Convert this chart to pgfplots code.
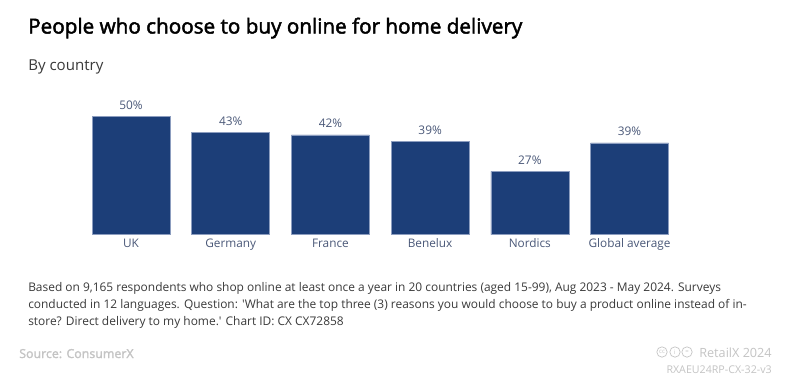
\documentclass[border=0pt]{standalone}
\usepackage{pgfplots}
\pgfplotsset{compat=1.18}
\usepackage{fontspec}
\setmainfont{Open Sans}
\definecolor{bar}{HTML}{1C3E78}
\definecolor{baredge}{HTML}{8C9DBF}
\definecolor{lab}{HTML}{4A5878}
\definecolor{body}{HTML}{3A3A3A}
\definecolor{foot}{HTML}{C4C4C4}
\begin{document}
\begin{tikzpicture}[x=0.75pt,y=-0.75pt]
\path[use as bounding box,fill=white] (0,0) rectangle (790,379);
\coordinate (O) at (81.2,234.5);
\begin{axis}[
  at={(O)},anchor=south west,
  x=74.775pt,y=1.77pt,
  scale only axis,
  xmin=-0.5,xmax=5.5,ymin=0,ymax=60,
  axis lines=none,
  clip=false,
  ybar,bar width=58.5pt,bar shift=0pt,
  nodes near coords={\pgfmathprintnumber[fixed,precision=0,assume math mode=true]{\pgfplotspointmeta}\%},
  every node near coord/.append style={font=\fontsize{8.9}{8.9}\selectfont,text=lab,yshift=1.6pt},
]
\addplot[fill=bar,draw=baredge,line width=0.4pt] coordinates {(0,50) (1,43.4) (2,42.2) (3,39.4) (4,26.7) (5,38.8)};
\end{axis}
\foreach \x/\t in {131/UK,230.7/Germany,330.4/France,430.1/Benelux,529.8/Nordics,629.5/Global average}
  \node[font=\fontsize{8.85}{8.85}\selectfont,text=lab,anchor=base] at (\x,247.5) {\t};
\node[anchor=base west,inner sep=0,font=\fontsize{15.5}{15.5}\selectfont,text=black] at (28,33.5) {\addfontfeatures{FakeBold=2.2}People who choose to buy online for home delivery};
\node[anchor=base west,inner sep=0,font=\fontsize{11.3}{11.3}\selectfont,text=body] at (28,70) {By country};
\node[anchor=base west,inner sep=0,font=\fontsize{8.95}{9}\selectfont,text=body] at (28,291) {Based on 9,165 respondents who shop online at least once a year in 20 countries (aged 15-99), Aug 2023 - May 2024. Surveys};
\node[anchor=base west,inner sep=0,font=\fontsize{8.95}{9}\selectfont,text=body] at (28,308) {conducted in 12 languages. Question: \textquotesingle What are the top three (3) reasons you would choose to buy a product online instead of in-};
\node[anchor=base west,inner sep=0,font=\fontsize{8.95}{9}\selectfont,text=body] at (28,325) {store? Direct delivery to my home.\textquotesingle{} Chart ID: CX CX72858};
\node[anchor=base west,inner sep=0,font=\fontsize{9.3}{9.4}\selectfont,text=foot] at (19,358) {\addfontfeatures{FakeBold=1.8}Source: ConsumerX};
\node[anchor=base east,inner sep=0,font=\fontsize{9.5}{9.5}\selectfont,text=foot] at (772,357) {RetailX 2024};
\node[anchor=base east,inner sep=0,font=\fontsize{8}{8}\selectfont,text=foot] at (772,373) {RXAEU24RP-CX-32-v3};
\foreach \x/\t in {662/cc,675/i,687/=}{
  \draw[foot,line width=0.5pt] (\x,352) circle (5.2);
  \node[inner sep=0,font=\fontsize{4.5}{4.5}\selectfont,text=foot] at (\x,352) {\t};
}
\end{tikzpicture}
\end{document}
